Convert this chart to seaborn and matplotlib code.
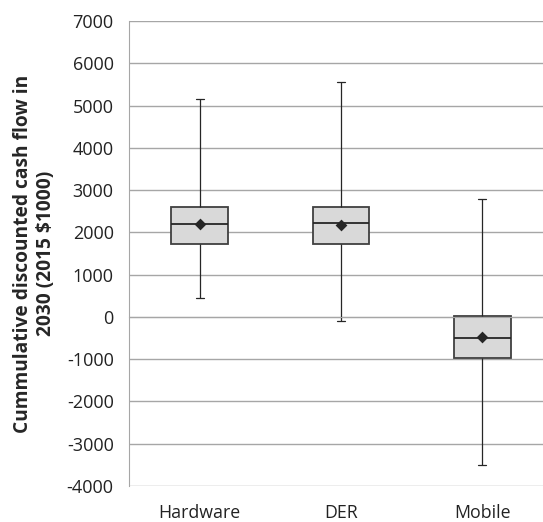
import numpy as np
import pandas as pd
import matplotlib
matplotlib.use("Agg")
import matplotlib.pyplot as plt
import seaborn as sns

# --- data ---
categories = ["Hardware", "DER", "Mobile"]
whisker_low = [450, -100, -3500]
q1 = [1730, 1730, -980]
median = [2200, 2220, -500]
q3 = [2600, 2600, 20]
whisker_high = [5150, 5550, 2800]
means = [2200, 2180, -480]

y_ticks = list(range(-4000, 7001, 1000))

# five-number summaries -> 5 points per category, quartiles land exactly on them
rows = []
for i, cat in enumerate(categories):
    for v in [whisker_low[i], q1[i], median[i], q3[i], whisker_high[i]]:
        rows.append({"cat": cat, "value": v})
df = pd.DataFrame(rows)

sns.set_style("white")
plt.rcParams["font.family"] = ["Open Sans", "DejaVu Sans"]
plt.rcParams["axes.unicode_minus"] = False

fig = plt.figure(figsize=(5.43, 5.22), dpi=100)
ax = fig.add_axes([129 / 543, 36 / 522, 424 / 543, 465 / 522])

grid_col = "#a6a6a6"
box_edge = "#404040"

sns.boxplot(data=df, x="cat", y="value", order=categories, whis=(0, 100),
            width=0.4, color="#d9d9d9", linecolor=box_edge, linewidth=1.3,
            showcaps=True, fliersize=0, ax=ax,
            boxprops={"facecolor": "#d9d9d9", "edgecolor": box_edge},
            medianprops={"color": "#262626", "linewidth": 1.3},
            whiskerprops={"color": "#262626", "linewidth": 0.9},
            capprops={"color": "#262626", "linewidth": 0.9},
            capwidths=0.055)

sns.stripplot(x=categories, y=means, order=categories, jitter=False,
              marker="D", size=6, color="#262626", ax=ax, zorder=5)

ax.set_ylim(-4000, 7000)
ax.set_yticks(y_ticks)
ax.set_xlim(-0.5, 2.5)
ax.yaxis.grid(True, color=grid_col, linewidth=1.0)
ax.set_axisbelow(True)

for s in ["top", "right"]:
    ax.spines[s].set_visible(False)
ax.spines["left"].set_color(grid_col)
ax.spines["bottom"].set_color(grid_col)
ax.spines["bottom"].set_position(("data", 0))

# category boundary ticks on the zero line
ax.set_xticks([0.5, 1.5])
ax.set_xticklabels([])
ax.tick_params(axis="x", direction="out", length=5, color=grid_col, width=1.0)
ax.tick_params(axis="y", direction="out", length=5, color=grid_col, width=1.0,
               pad=6, labelsize=13, labelcolor="#222222")

# category names along the bottom
sec = ax.secondary_xaxis("bottom")
sec.set_xticks(range(len(categories)), labels=categories)
sec.spines["bottom"].set_visible(False)
sec.tick_params(length=0, pad=13, labelsize=12.8, labelcolor="#222222")

ax.set_xlabel("")
ax.set_ylabel("Cummulative discounted cash flow in\n2030 (2015 $1000)",
              fontsize=13.8, fontweight="bold", labelpad=8, linespacing=1.15)

fig.savefig("out.png", dpi=100)
